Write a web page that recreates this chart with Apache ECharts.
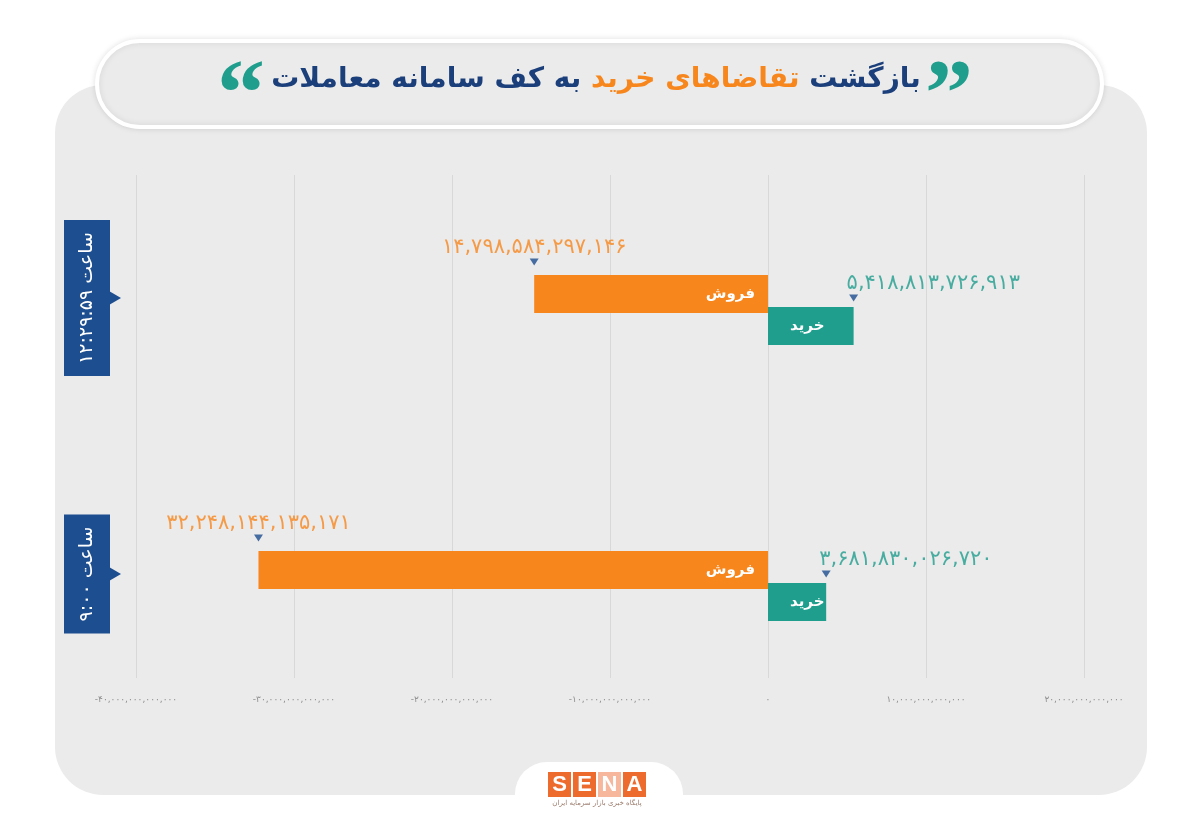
<!DOCTYPE html>
<html>
<head>
<meta charset="utf-8">
<script src="https://cdn.jsdelivr.net/npm/echarts@6/dist/echarts.min.js"></script>
<style>html,body{margin:0;padding:0;background:#fff;}#c{width:1200px;height:836px;}</style>
</head>
<body>
<div id="c"></div>
<script>
const categories = ['ساعت ۹:۰۰', 'ساعت ۱۲:۲۹:۵۹'];
const sellName = 'فروش';
const buyName = 'خرید';
const sellValues = [-32248144135171, -14798584297146];
const buyValues = [3681830026720, 5418813726913];
const xMin = -40000000000000, xMax = 20000000000000, xStep = 10000000000000;

const FONT = 'DejaVu Sans';
const ORANGE = '#f7861d', TEAL = '#1f9e8d', NAVY = '#1d4e8f';

function toFa(n) {
  const s = Math.round(Math.abs(n)).toString().replace(/\B(?=(\d{3})+(?!\d))/g, ',');
  return (n < 0 ? '-' : '') + s.replace(/\d/g, d => '۰۱۲۳۴۵۶۷۸۹'[d]);
}

const chart = echarts.init(document.getElementById('c'));
const option = {
  backgroundColor: '#fff',
  animation: false,
  textStyle: { fontFamily: FONT },
  grid: [
    { left: 136, right: 116, top: 175, bottom: 158 },
    { left: 136, right: 116, top: 172, bottom: 112 }
  ],
  xAxis: [
    { type: 'value', gridIndex: 0, min: xMin, max: xMax, interval: xStep,
      axisLine: { show: false }, axisTick: { show: false },
      splitLine: { show: true, lineStyle: { color: '#d8d8d8', width: 1 } },
      axisLabel: { color: '#8f8f8f', fontSize: 9, margin: 17, fontFamily: FONT, formatter: v => toFa(v) } },
    { type: 'value', gridIndex: 1, min: xMin, max: xMax, interval: xStep, show: false }
  ],
  yAxis: [
    { type: 'value', gridIndex: 0, min: 0, max: 1, show: false },
    { type: 'category', gridIndex: 1, data: categories,
      axisLine: { show: false }, axisTick: { show: false }, splitLine: { show: false },
      axisLabel: { rotate: 90, margin: 26, formatter: v => '{s|}{b|' + v + '}',
        rich: {
          s: { width: 24, height: 10 },
          b: { color: '#fff', backgroundColor: NAVY, fontSize: 19, fontFamily: FONT,
               padding: [14, 12, 13, 12] }
        } } }
  ],
  series: [
    { name: sellName, type: 'bar', xAxisIndex: 1, yAxisIndex: 1, data: sellValues,
      barWidth: 38, barGap: '-16%', itemStyle: { color: ORANGE },
      label: { show: true, position: 'insideRight', distance: 13, formatter: sellName,
        color: '#fff', fontWeight: 'bold', fontSize: 15, fontFamily: FONT } },
    { name: buyName, type: 'bar', xAxisIndex: 1, yAxisIndex: 1, data: buyValues,
      barWidth: 38, barGap: '-16%', itemStyle: { color: TEAL },
      label: { show: true, position: 'insideLeft', distance: 22, formatter: buyName,
        color: '#fff', fontWeight: 'bold', fontSize: 15, fontFamily: FONT } },
    { type: 'scatter', xAxisIndex: 1, yAxisIndex: 1,
      data: sellValues.map((v, i) => [v, categories[i]]),
      symbol: 'triangle', symbolRotate: 180, symbolSize: [9, 7], symbolOffset: [0, -48],
      itemStyle: { color: NAVY }, z: 5,
      label: { show: true, position: 'top', distance: 0, color: ORANGE, fontSize: 21, fontFamily: FONT,
        formatter: p => toFa(Math.abs(p.value[0])) } },
    { type: 'scatter', xAxisIndex: 1, yAxisIndex: 1,
      data: buyValues.map((v, i) => [v, categories[i]]),
      symbol: 'triangle', symbolRotate: 180, symbolSize: [9, 7], symbolOffset: [0, -12],
      itemStyle: { color: NAVY }, z: 5,
      label: { show: true, position: 'top', distance: 0, align: 'left', offset: [-7, 0], color: TEAL, fontSize: 21, fontFamily: FONT,
        formatter: p => toFa(p.value[0]) } }
  ],
  graphic: { elements: [
    { id: 'panel', type: 'rect', z: -100, shape: { x: 55, y: 85, width: 1092, height: 710, r: 48 }, style: { fill: '#ebebeb' } },
    { id: 'pill', type: 'rect', z: -90, shape: { x: 97, y: 41, width: 1005, height: 86, r: 43 },
      style: { fill: '#ebebeb', stroke: '#ffffff', lineWidth: 4, shadowBlur: 6, shadowColor: 'rgba(0,0,0,0.10)' } },
    { id: 'title', type: 'text', z: 10, x: 596, y: 80,
      style: { text: '{b|به کف سامانه معاملات}{b| }{o|تقاضاهای خرید}{b| }{b|بازگشت}', align: 'center', verticalAlign: 'middle',
        rich: { b: { fill: '#1b3f7a', fontSize: 28, fontWeight: 'bold', fontFamily: FONT },
                o: { fill: '#f7861d', fontSize: 28, fontWeight: 'bold', fontFamily: FONT } } } },
    { id: 'qL', type: 'text', z: 10, x: 241, y: 52, style: { text: '\u201C', fill: '#1f9e8d', fontSize: 96, fontWeight: 'bold', fontFamily: 'Liberation Serif', align: 'center', verticalAlign: 'top' } },
    { id: 'qR', type: 'text', z: 10, x: 949, y: 52, style: { text: '\u201D', fill: '#1f9e8d', fontSize: 96, fontWeight: 'bold', fontFamily: 'Liberation Serif', align: 'center', verticalAlign: 'top' } },
    { id: 'tab', type: 'rect', z: -80, shape: { x: 515, y: 762, width: 168, height: 110, r: [32, 32, 0, 0] }, style: { fill: '#ffffff' } },
    { id: 'l1', type: 'rect', z: 10, shape: { x: 548, y: 772, width: 23, height: 25 }, style: { fill: '#ee6b2e' } },
    { id: 'l2', type: 'rect', z: 10, shape: { x: 573, y: 772, width: 23, height: 25 }, style: { fill: '#ee6b2e' } },
    { id: 'l3', type: 'rect', z: 10, shape: { x: 598, y: 772, width: 23, height: 25 }, style: { fill: '#f6b79c' } },
    { id: 'l4', type: 'rect', z: 10, shape: { x: 623, y: 772, width: 23, height: 25 }, style: { fill: '#ee6b2e' } },
    { id: 't1', type: 'text', z: 11, x: 559.5, y: 785, style: { text: 'S', fill: '#fff', fontSize: 22, fontWeight: 'bold', fontFamily: 'Liberation Sans', align: 'center', verticalAlign: 'middle' } },
    { id: 't2', type: 'text', z: 11, x: 584.5, y: 785, style: { text: 'E', fill: '#fff', fontSize: 22, fontWeight: 'bold', fontFamily: 'Liberation Sans', align: 'center', verticalAlign: 'middle' } },
    { id: 't3', type: 'text', z: 11, x: 609.5, y: 785, style: { text: 'N', fill: '#fff', fontSize: 22, fontWeight: 'bold', fontFamily: 'Liberation Sans', align: 'center', verticalAlign: 'middle' } },
    { id: 't4', type: 'text', z: 11, x: 634.5, y: 785, style: { text: 'A', fill: '#fff', fontSize: 22, fontWeight: 'bold', fontFamily: 'Liberation Sans', align: 'center', verticalAlign: 'middle' } },
    { id: 'sub', type: 'text', z: 11, x: 597, y: 803, style: { text: 'پایگاه خبری بازار سرمایه ایران', fill: '#9a7a6a', fontSize: 7, fontFamily: FONT, align: 'center', verticalAlign: 'middle' } }
  ] }
};
chart.setOption(option);

// pointer triangles next to category label boxes, positioned through the category axis
const tri = categories.map((c, i) => {
  const y = chart.convertToPixel({ yAxisIndex: 1 }, c) - 12;
  return { id: 'ptr' + i, type: 'polygon', z: 10, shape: { points: [[109, y - 7], [121, y], [109, y + 7]] }, style: { fill: NAVY } };
});
chart.setOption({ graphic: { elements: tri } });
</script>
</body>
</html>
